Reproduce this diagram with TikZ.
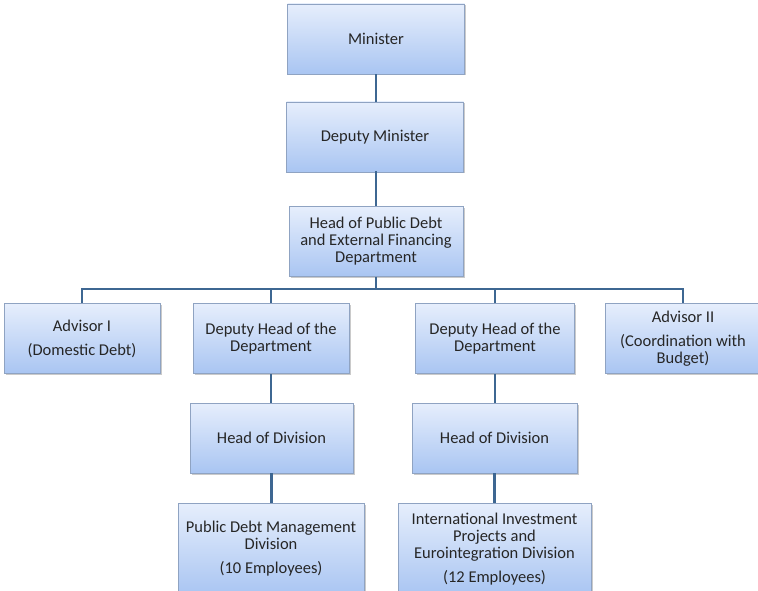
\documentclass[tikz,border=0pt]{standalone}
\usepackage{fontspec}
\setmainfont{Carlito}
\usetikzlibrary{shadows}

\definecolor{boxtop}{HTML}{E6EEFC}
\definecolor{boxbot}{HTML}{A9C5F2}
\definecolor{boxline}{HTML}{8FA3C2}
\definecolor{linkblue}{HTML}{3E6792}

\begin{document}
\begin{tikzpicture}
[
	x=1pt, y=-1pt,
	unit/.style={draw=boxline,line width=0.6pt,top color=boxtop,bottom color=boxbot,align=center,minimum height=70pt,inner sep=1pt,font=\fontsize{16.5}{17}\selectfont,text=black!85,drop shadow={shadow xshift=1.5pt,shadow yshift=-1.5pt,opacity=0.35,fill=black!60}},
	link/.style={draw=linkblue,line width=2.8pt}
]

	\useasboundingbox (0,0) rectangle (758,591);

	% top of the chart
	\node[unit,minimum width=177pt] (minister) at (376,39) {Minister};
	\node[unit,minimum width=177pt] (depmin) at (375,137) {Deputy Minister};
	\node[unit,minimum width=174pt] (headdept) at (376,241.5) {Head of Public Debt\\and External Financing\\Department};

	% second row
	\node[unit,minimum width=156pt] (advone) at (82,338.5) {Advisor I\\[7pt](Domestic Debt)};
	\node[unit,minimum width=156pt] (depone) at (271,338.5) {Deputy Head of the\\Department};
	\node[unit,minimum width=159pt] (deptwo) at (495,338.5) {Deputy Head of the\\Department};
	\node[unit,minimum width=156pt] (advtwo) at (683,338.5) {Advisor II\\[7pt](Coordination with\\Budget)};

	% divisions
	\node[unit,minimum width=163pt] (divone) at (271.5,438) {Head of Division};
	\node[unit,minimum width=165pt] (divtwo) at (494.5,438) {Head of Division};
	\node[unit,minimum width=186pt,minimum height=92pt] (pdm) at (271,549) {Public Debt Management\\Division\\[7pt](10 Employees)};
	\node[unit,minimum width=193pt,minimum height=92pt] (iip) at (494.5,549) {International Investment\\Projects and\\Eurointegration Division\\[7pt](12 Employees)};

	% connectors
	\coordinate (bus) at (376,289);
	\draw[link] (minister.south) -- (minister.south |- depmin.north);
	\draw[link] (depmin.south) -- (depmin.south -| headdept.north) -- (headdept.north);
	\draw[link] (headdept.south) -- (bus);
	\draw[link] (advone.north) |- (bus) -| (advtwo.north);
	\draw[link] (depone.north) -- (depone.north |- bus);
	\draw[link] (deptwo.north) -- (deptwo.north |- bus);
	\draw[link] (depone.south) -- (depone.south |- divone.north);
	\draw[link] (deptwo.south) -- (deptwo.south |- divtwo.north);
	\draw[link] (divone.south) -- (divone.south |- pdm.north);
	\draw[link] (divtwo.south) -- (divtwo.south |- iip.north);

\end{tikzpicture}
\end{document}
